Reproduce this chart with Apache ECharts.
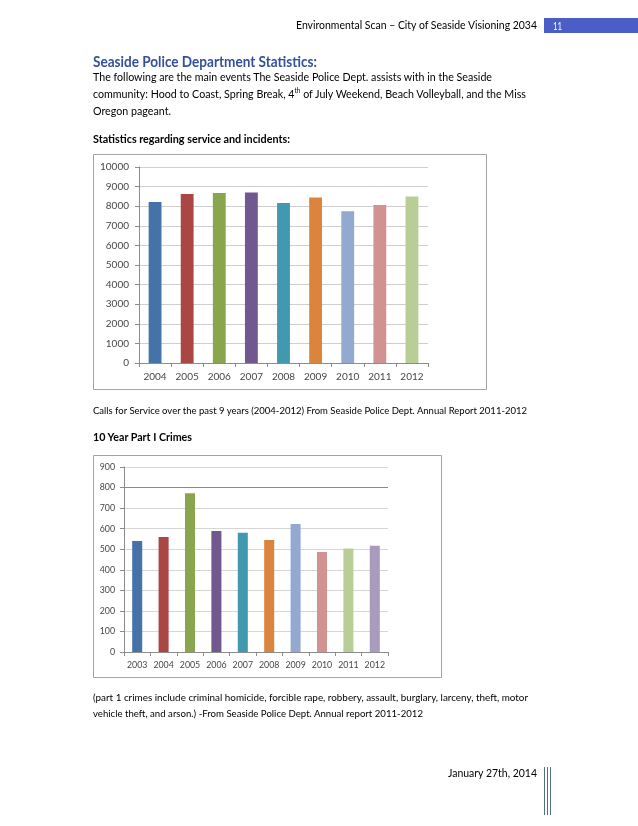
<!DOCTYPE html>
<html><head><meta charset="utf-8">
<script src="https://cdn.jsdelivr.net/npm/echarts@6/dist/echarts.min.js"></script>
<style>
html,body{margin:0;padding:0;background:#fff;}
#page{position:relative;width:638px;height:826px;overflow:hidden;background:#fff;font-family:Lato,'Open Sans',sans-serif;}
#chart{position:absolute;left:0;top:0;width:638px;height:826px;}
.t{position:absolute;white-space:nowrap;transform-origin:0 50%;color:#000;}
#pagebox{position:absolute;left:544px;top:18px;width:94px;height:15px;background:#4a5fc6;}
.vl{position:absolute;top:767px;height:48px;width:1px;background:#4f6f8c;}
</style></head><body>
<div id="page">
<div id="chart"></div>
<div id="pagebox"></div>
<div class="t" data-x="296" data-y="25" data-w="241" data-fs="12">Environmental Scan – City of Seaside Visioning 2034</div>
<div class="t" data-x="553" data-y="25.5" data-w="9" data-fs="11.5" style="color:#fff">11</div>
<div class="t" data-x="93" data-y="61" data-w="224" data-fs="14.5" style="font-weight:bold;color:#35509a">Seaside Police Department Statistics:</div>
<div class="t" data-x="93" data-y="76" data-w="399" data-fs="11.5">The following are the main events The Seaside Police Dept. assists with in the Seaside</div>
<div class="t" data-x="93" data-y="93" data-w="433" data-fs="11.5">community: Hood to Coast, Spring Break, 4<sup style="font-size:0.6em;line-height:0">th</sup> of July Weekend, Beach Volleyball, and the Miss</div>
<div class="t" data-x="93" data-y="110" data-w="78" data-fs="11.5">Oregon pageant.</div>
<div class="t" data-x="93" data-y="138" data-w="197" data-fs="11.5" style="font-weight:bold">Statistics regarding service and incidents:</div>
<div class="t" data-x="93" data-y="410" data-w="434" data-fs="10">Calls for Service over the past 9 years (2004-2012) From Seaside Police Dept. Annual Report 2011-2012</div>
<div class="t" data-x="93" data-y="436" data-w="99" data-fs="11.5" style="font-weight:bold">10 Year Part I Crimes</div>
<div class="t" data-x="93" data-y="697.5" data-w="435" data-fs="10">(part 1 crimes include criminal homicide, forcible rape, robbery, assault, burglary, larceny, theft, motor</div>
<div class="t" data-x="93" data-y="713.5" data-w="330" data-fs="10">vehicle theft, and arson.) -From Seaside Police Dept. Annual report 2011-2012</div>
<div class="t" data-x="448" data-y="772.5" data-w="89" data-fs="11.5">January 27th, 2014</div>
<div class="vl" style="left:544px"></div>
<div class="vl" style="left:547px"></div>
<div class="vl" style="left:550px"></div>
</div>
<script>
// ---- data ----
const years1 = ['2004','2005','2006','2007','2008','2009','2010','2011','2012'];
const calls = [8210, 8620, 8670, 8700, 8160, 8450, 7740, 8060, 8490];
const years2 = ['2003','2004','2005','2006','2007','2008','2009','2010','2011','2012'];
const crimes = [540, 560, 772, 589, 580, 545, 623, 486, 503, 517];
const palette = ['#4572A7','#AA4643','#89A54E','#71588F','#4198AF','#DB843D','#93A9CF','#D19392','#B9CD96','#A99BBD'];

// fit text lines
document.querySelectorAll('.t').forEach(el => {
  const fs = parseFloat(el.dataset.fs);
  const lh = Math.round(fs * 1.3);
  el.style.fontSize = fs + 'px';
  el.style.lineHeight = lh + 'px';
  el.style.left = el.dataset.x + 'px';
  el.style.top = (parseFloat(el.dataset.y) - lh / 2) + 'px';
  const w = el.getBoundingClientRect().width;
  const target = parseFloat(el.dataset.w);
  if (w > 0) el.style.transform = 'scaleX(' + (target / w) + ')';
});

const axisLineColor = '#8c8c8c';
function font(size) { return {fontFamily: 'Lato', fontSize: size, color: '#474747'}; }
function xAx(gi, data, margin, fs) {
  return {gridIndex: gi, type: 'category', data: data,
    axisLine: {lineStyle: {color: axisLineColor}},
    axisTick: {show: true, length: 4, lineStyle: {color: axisLineColor}},
    axisLabel: Object.assign({margin: margin, interval: 0}, font(fs))};
}
function yAx(gi, max, interval, margin, gridColor, fs) {
  return {gridIndex: gi, type: 'value', min: 0, max: max, interval: interval,
    axisLine: {show: true, lineStyle: {color: axisLineColor}},
    axisTick: {show: true, length: 4, lineStyle: {color: axisLineColor}},
    splitLine: {show: true, lineStyle: {color: gridColor, width: 1}},
    axisLabel: Object.assign({margin: margin, formatter: v => String(v)}, font(fs))};
}
const chart = echarts.init(document.getElementById('chart'), null, {renderer: 'canvas'});
chart.setOption({
  animation: false,
  backgroundColor: 'transparent',
  grid: [
    {left: 139, top: 167, width: 289, height: 196},
    {left: 124, top: 467, width: 264, height: 185}
  ],
  xAxis: [xAx(0, years1, 9, 10), xAx(1, years2, 9, 8.8)],
  yAxis: [yAx(0, 10000, 1000, 10, '#cfcfcf', 10), yAx(1, 900, 100, 9, '#d6d6d6', 8.8)],
  series: [
    {type: 'bar', xAxisIndex: 0, yAxisIndex: 0, data: calls, barWidth: '40%',
     itemStyle: {color: p => palette[p.dataIndex]}},
    {type: 'bar', xAxisIndex: 1, yAxisIndex: 1, data: crimes, barWidth: '38%',
     itemStyle: {color: p => palette[p.dataIndex]},
     markLine: {silent: true, symbol: 'none', label: {show: false},
       lineStyle: {color: '#8a8a8a', type: 'solid', width: 1},
       data: [{yAxis: 800}]}}
  ],
  graphic: [
    {type: 'rect', shape: {x: 93.5, y: 154.5, width: 393, height: 235}, style: {fill: 'none', stroke: '#a3a3a3', lineWidth: 1}, z: -1},
    {type: 'rect', shape: {x: 93.5, y: 455.5, width: 348, height: 222}, style: {fill: 'none', stroke: '#a3a3a3', lineWidth: 1}, z: -1}
  ]
});
</script>
</body></html>
